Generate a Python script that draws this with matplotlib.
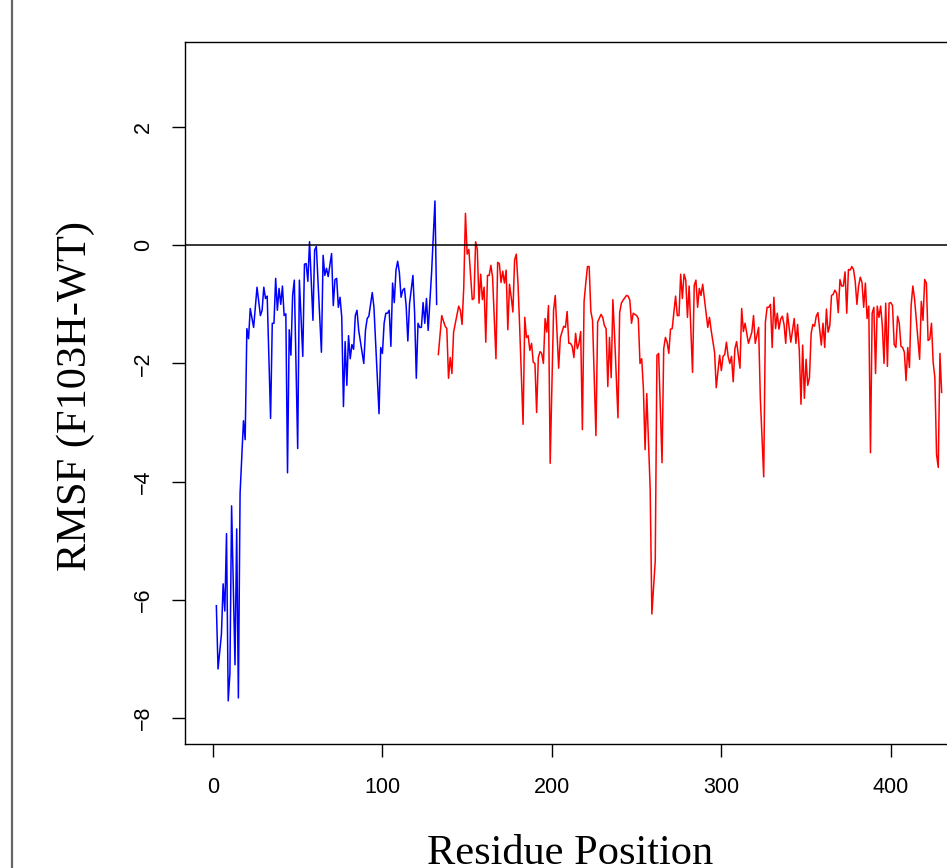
import matplotlib
matplotlib.use("Agg")
import matplotlib.pyplot as plt
from matplotlib.lines import Line2D

# RMSF difference (F103H - WT)
blue_res = [2, 3, 5, 6, 7, 8, 9, 10, 11, 13, 14, 15, 16, 18, 19, 20, 21, 22, 24, 26,
            28, 29, 30, 31, 32, 34, 35, 36, 37, 38, 39, 40, 41, 42, 43, 44, 45, 46, 47, 48,
            50, 51, 53, 54, 55, 56, 57, 59, 60, 61, 64, 65, 66, 67, 68, 70, 71, 72, 73, 74,
            75, 76, 77, 78, 79, 80, 81, 82, 83, 84, 85, 86, 89, 90, 91, 92, 94, 95, 98, 99,
            100, 101, 102, 103, 104, 105, 106, 107, 108, 109, 110, 111, 112, 113, 114, 115, 116, 118, 119, 120,
            121, 122, 123, 124, 125, 126, 127, 129, 131, 132]
blue_rmsf = [-6.10, -7.17, -6.58, -5.73, -6.19, -4.88, -7.71, -7.25, -4.41, -7.10, -4.80, -7.66, -4.20, -2.97, -3.29, -1.41, -1.58, -1.07, -1.39, -0.71,
             -1.19, -1.10, -0.71, -0.90, -0.86, -2.93, -1.32, -1.32, -0.56, -1.10, -0.73, -1.00, -0.69, -1.19, -1.16, -3.85, -1.43, -1.86, -0.85, -0.59,
             -3.44, -0.59, -1.88, -0.32, -0.31, -0.61, 0.06, -1.27, -0.08, -0.02, -1.81, -0.17, -0.51, -0.39, -0.53, -0.14, -1.02, -0.58, -0.56, -1.05,
             -0.88, -1.22, -2.73, -1.63, -2.37, -1.53, -1.92, -1.68, -1.76, -1.19, -1.10, -1.44, -2.00, -1.44, -1.24, -1.20, -0.80, -1.05, -2.85, -1.73,
             -1.83, -1.32, -1.15, -1.15, -1.10, -1.71, -0.64, -0.97, -0.42, -0.27, -0.46, -0.88, -0.76, -0.73, -1.02, -1.62, -0.99, -0.51, -1.15, -2.25,
             -1.32, -1.39, -1.39, -0.97, -1.32, -0.90, -1.44, -0.47, 0.75, -1.00]

red_res = [133, 135, 137, 138, 139, 140, 141, 142, 145, 146, 147, 148, 149, 150, 151, 153, 154, 155, 156, 157,
           158, 159, 160, 161, 162, 163, 164, 165, 167, 168, 169, 170, 171, 172, 173, 174, 175, 176, 177, 178,
           179, 180, 181, 183, 184, 185, 186, 187, 188, 189, 190, 191, 192, 193, 194, 195, 196, 197, 198, 199,
           201, 202, 204, 205, 207, 208, 209, 210, 211, 212, 213, 214, 215, 216, 217, 218, 219, 220, 221, 222,
           223, 224, 226, 227, 229, 230, 231, 232, 233, 234, 235, 236, 237, 239, 240, 241, 242, 244, 245, 246,
           247, 248, 249, 250, 251, 252, 253, 254, 255, 256, 258, 259, 261, 262, 263, 265, 266, 267, 268, 269,
           270, 271, 273, 274, 275, 276, 277, 278, 279, 280, 281, 283, 284, 285, 286, 287, 288, 289, 292, 293,
           294, 296, 297, 299, 300, 301, 302, 303, 304, 305, 306, 307, 308, 309, 311, 312, 313, 314, 316, 318,
           319, 320, 322, 323, 325, 326, 327, 328, 329, 330, 331, 332, 333, 334, 335, 336, 337, 338, 339, 341,
           343, 344, 345, 346, 347, 348, 349, 350, 351, 352, 353, 354, 355, 356, 357, 359, 360, 361, 362, 363,
           364, 365, 366, 367, 368, 369, 370, 371, 372, 373, 374, 375, 376, 377, 378, 379, 380, 381, 382, 383,
           384, 385, 386, 387, 388, 389, 390, 391, 392, 393, 394, 395, 396, 397, 398, 399, 400, 401, 402, 403,
           404, 405, 406, 407, 408, 409, 410, 411, 412, 413, 414, 415, 417, 418, 419, 420, 421, 422, 423, 424,
           425, 426, 427, 428, 429, 430]
red_rmsf = [-1.85, -1.19, -1.37, -1.41, -2.25, -1.90, -2.17, -1.47, -1.03, -1.10, -1.34, -0.71, 0.54, -0.15, -0.07, -0.92, -0.90, 0.06, -0.07, -0.98,
            -0.49, -0.92, -0.71, -1.64, -0.51, -0.51, -0.34, -0.54, -1.92, -0.29, -0.31, -0.63, -0.44, -0.64, -0.42, -1.43, -0.66, -0.88, -1.13, -0.25,
            -0.15, -0.64, -1.39, -3.03, -1.22, -1.56, -1.53, -1.78, -1.66, -1.98, -2.00, -2.83, -1.90, -1.80, -1.83, -2.00, -1.24, -1.47, -1.02, -3.69,
            -1.10, -0.85, -2.08, -1.56, -1.37, -1.39, -1.12, -1.66, -1.66, -1.71, -1.90, -1.49, -1.75, -1.66, -1.46, -3.12, -0.95, -0.64, -0.36, -0.36,
            -1.12, -1.27, -3.22, -1.30, -1.17, -1.22, -1.36, -1.41, -2.39, -1.56, -2.24, -0.92, -1.53, -2.92, -1.14, -0.98, -0.93, -0.85, -0.86, -0.93,
            -1.32, -1.15, -1.17, -1.19, -1.24, -2.00, -1.92, -2.42, -3.46, -2.51, -4.12, -6.24, -5.34, -1.86, -1.83, -3.68, -1.75, -1.56, -1.64, -1.83,
            -1.42, -1.41, -0.86, -1.19, -1.19, -0.49, -0.90, -0.49, -0.59, -1.22, -0.69, -2.15, -0.68, -0.59, -1.05, -0.73, -0.85, -0.66, -1.39, -1.22,
            -1.44, -1.81, -2.41, -1.86, -2.12, -1.88, -1.85, -1.64, -1.88, -2.00, -1.88, -2.31, -1.75, -1.63, -2.08, -1.07, -1.46, -1.32, -1.66, -1.47,
            -1.19, -1.66, -1.39, -2.58, -3.92, -1.30, -1.05, -1.05, -1.00, -1.73, -0.88, -1.41, -1.15, -1.42, -1.25, -1.20, -1.34, -1.66, -1.15, -1.64,
            -1.24, -1.66, -1.34, -1.78, -2.69, -1.69, -2.59, -1.93, -2.37, -2.24, -1.49, -1.34, -1.37, -1.20, -1.14, -1.69, -1.32, -1.73, -1.08, -1.47,
            -1.36, -0.85, -0.83, -0.76, -0.81, -1.14, -0.58, -0.69, -0.69, -0.45, -1.15, -0.41, -0.42, -0.36, -0.41, -0.61, -1.00, -0.69, -0.54, -0.63,
            -1.05, -0.64, -1.24, -1.03, -3.51, -1.15, -1.05, -2.17, -1.03, -1.22, -1.03, -1.36, -2.00, -0.98, -2.05, -0.98, -0.97, -1.02, -1.68, -1.73,
            -1.20, -1.32, -1.71, -1.73, -1.81, -2.29, -1.73, -2.07, -1.02, -0.69, -0.90, -1.25, -1.93, -0.95, -1.27, -0.58, -0.64, -1.61, -1.59, -1.32,
            -1.98, -2.24, -3.54, -3.76, -1.83, -2.49]

xticks = [0, 100, 200, 300, 400]
yticks = [-8, -6, -4, -2, 0, 2]

W, H = 947, 868
fig = plt.figure(figsize=(W / 100, H / 100), dpi=100)
# axes box runs past the right edge of the picture (reference is cropped)
ax = fig.add_axes([185 / W, 1 - 744 / H, (984 - 185) / W, (744 - 42) / H])

ax.plot(blue_res, blue_rmsf, color="blue", lw=1.1)
ax.plot(red_res, red_rmsf, color="red", lw=1.1)
ax.axhline(0, color="black", lw=1.1)

ax.set_xlim(-16.5, 455)
ax.set_ylim(-8.44, 3.44)
ax.set_xticks(xticks)
ax.set_yticks(yticks)

for s in ax.spines.values():
    s.set_linewidth(1.0)
ax.tick_params(length=9.5, width=1.0, labelsize=15.5)
ax.tick_params(axis="x", pad=14)
ax.tick_params(axis="y", pad=13, labelrotation=90)
for lab in ax.get_xticklabels() + ax.get_yticklabels():
    lab.set_family("Liberation Sans")
for lab in ax.get_yticklabels():
    lab.set_va("center")

fig.text(76 / W, 1 - 396 / H, "RMSF (F103H-WT)", rotation=90, ha="center", va="center",
         family="Liberation Serif", fontsize=30.5)
fig.text(570 / W, 1 - 864 / H, "Residue Position", ha="center", va="baseline",
         family="Liberation Serif", fontsize=30.5)

# grey frame line at the left edge
fig.add_artist(Line2D([12 / W, 12 / W], [0, 1], color="#666666", lw=1.6))

fig.savefig("out.png", dpi=100)
